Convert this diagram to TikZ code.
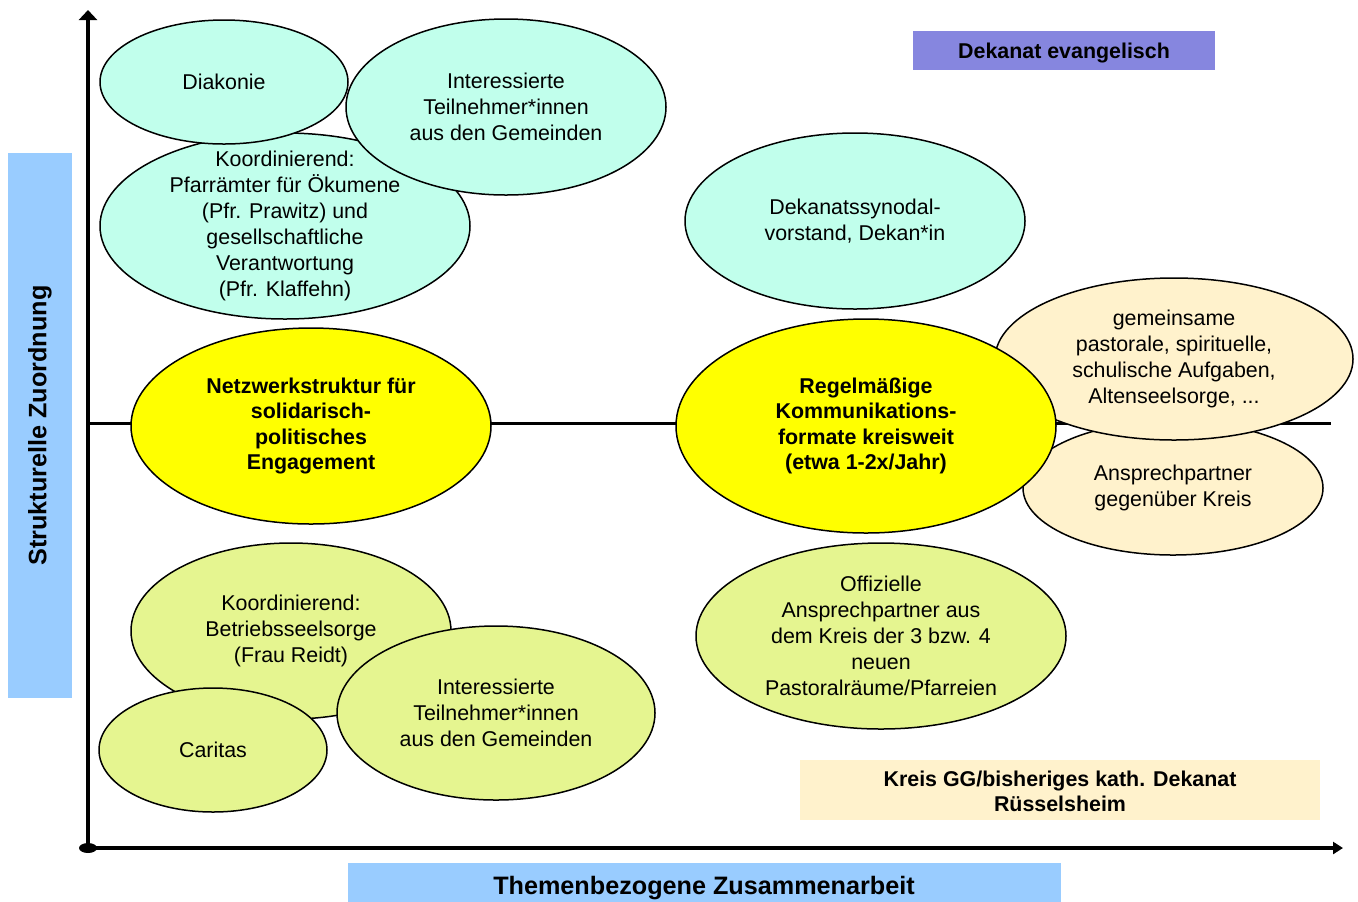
\documentclass[tikz,border=0pt]{standalone}
\usepackage{fontspec}
\setmainfont{Liberation Sans}
\usetikzlibrary{shapes.geometric, arrows.meta}

\definecolor{tuerkis}{HTML}{C1FFEC}
\definecolor{gelb}{HTML}{FFFF00}
\definecolor{sand}{HTML}{FFF2CC}
\definecolor{gruen}{HTML}{E5F590}
\definecolor{hellblau}{HTML}{99CCFF}
\definecolor{lila}{HTML}{8686DF}

\begin{document}
\begin{tikzpicture}[x=0.5pt,y=-0.5pt,
	bubble/.style={ellipse, draw, line width=0.75pt, inner sep=-12pt, align=center, font=\fontsize{10.7}{13}\selectfont},
	keybubble/.style={bubble, fill=gelb, font=\fontsize{10.7}{12.8}\selectfont\bfseries},
	keybox/.style={inner sep=0pt, align=center, font=\fontsize{10.7}{12.5}\selectfont\bfseries}]
	
	\useasboundingbox (0,0) rectangle (1358,901);
	\clip (0,0) rectangle (1358,901);
	
	% Axes
	\coordinate (origin) at (88,848);
	\coordinate (ytop) at (88,10);
	\coordinate (xend) at (1343,848);
	\coordinate (midl) at (88,423);
	\coordinate (midr) at (1331,423);
	\draw[line width=2pt, -{Triangle[length=5pt,width=9pt]}] (origin) -- (ytop);
	\draw[line width=2pt, -{Triangle[length=5pt,width=6pt]}] (origin) -- (xend);
	\fill (origin) ellipse [x radius=4.5pt, y radius=2.5pt];
	\draw[line width=1.5pt] (midl) -- (midr);
	
	% Axis captions
	\node (struktur) [keybox, fill=hellblau, rotate=90, minimum width=272.5pt, minimum height=32pt,
		font=\fontsize{12.6}{15}\selectfont\bfseries] at (40,425.5) {Strukturelle Zuordnung};
	\node (thema) [keybox, fill=hellblau, minimum width=356.5pt, minimum height=25pt,
		font=\fontsize{12.6}{15}\selectfont\bfseries] at (704,888) {Themenbezogene Zusammenarbeit};
	
	% Legend
	\node (evang) [keybox, fill=lila, minimum width=151pt, minimum height=19.5pt, text depth=0pt] at (1064,50.5) {Dekanat evangelisch};
	\node (kath) [keybox, fill=sand, minimum width=260pt, minimum height=30pt] at (1060,790) {\strut Kreis GG/bisheriges kath. Dekanat\\Rüsselsheim};
	
	% Upper left group
	\node (pfarr) [bubble, fill=tuerkis, minimum width=185pt, minimum height=93pt] at (285,226)
		{Koordinierend:\\Pfarrämter für Ökumene\\(Pfr. Prawitz) und\\gesellschaftliche\\Verantwortung\\(Pfr. Klaffehn)};
	\node (diakonie) [bubble, fill=tuerkis, minimum width=124pt, minimum height=62pt] at (224,82) {Diakonie};
	\node (teiloben) [bubble, fill=tuerkis, minimum width=160pt, minimum height=88pt] at (506,107)
		{Interessierte\\Teilnehmer*innen\\aus den Gemeinden};
	\node (vorstand) [bubble, fill=tuerkis, minimum width=170pt, minimum height=88pt] at (855,221)
		{Dekanatssynodal-\\vorstand, Dekan*in};
	
	% Middle row
	\node (netzwerk) [keybubble, minimum width=180pt, minimum height=98pt] at (311,426)
		{Netzwerkstruktur für\\solidarisch-\\politisches\\Engagement};
	\node (partner) [bubble, fill=sand, minimum width=150pt, minimum height=67pt] at (1173,488)
		{Ansprechpartner\\gegenüber Kreis};
	\node (aufgaben) [bubble, fill=sand, minimum width=179pt, minimum height=81pt] at (1174,359)
		{gemeinsame\\pastorale, spirituelle,\\schulische Aufgaben,\\Altenseelsorge, ...};
	\node (formate) [keybubble, minimum width=190pt, minimum height=107pt] at (866,426)
		{Regelmäßige\\Kommunikations-\\formate kreisweit\\(etwa 1-2x/Jahr)};
	
	% Lower group
	\node (betrieb) [bubble, fill=gruen, minimum width=160pt, minimum height=88pt] at (291,631)
		{Koordinierend:\\Betriebsseelsorge\\(Frau Reidt)};
	\node (caritas) [bubble, fill=gruen, minimum width=114pt, minimum height=62pt] at (213,750) {Caritas};
	\node (teilunten) [bubble, fill=gruen, minimum width=159pt, minimum height=87pt] at (496,713)
		{Interessierte\\Teilnehmer*innen\\aus den Gemeinden};
	\node (offiziell) [bubble, fill=gruen, minimum width=185pt, minimum height=93pt] at (881,636)
		{Offizielle\\Ansprechpartner aus\\dem Kreis der 3 bzw. 4\\neuen\\Pastoralräume/Pfarreien};
	
\end{tikzpicture}
\end{document}
